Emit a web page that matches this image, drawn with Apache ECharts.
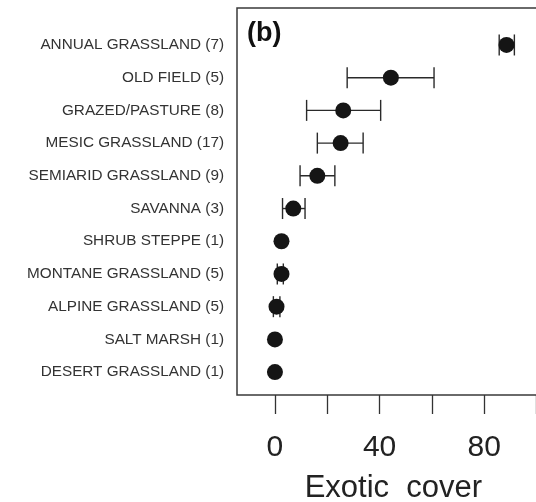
<!DOCTYPE html>
<html>
<head>
<meta charset="utf-8">
<script src="https://cdn.jsdelivr.net/npm/echarts@6/dist/echarts.min.js"></script>
<style>
html,body{margin:0;padding:0;background:#fff;overflow:hidden;}
#chart{width:536px;height:502px;}
</style>
</head>
<body>
<div id="chart"></div>
<script>
const categories = [
  "ANNUAL GRASSLAND (7)",
  "OLD FIELD (5)",
  "GRAZED/PASTURE (8)",
  "MESIC GRASSLAND (17)",
  "SEMIARID GRASSLAND (9)",
  "SAVANNA (3)",
  "SHRUB STEPPE (1)",
  "MONTANE GRASSLAND (5)",
  "ALPINE GRASSLAND (5)",
  "SALT MARSH (1)",
  "DESERT GRASSLAND (1)"
];
const means = [88.5, 44.3, 26.1, 25.1, 16.2, 7.0, 2.5, 2.5, 0.6, 0.0, 0.0];
const lower = [85.7, 27.6, 12.1, 16.2, 9.6, 2.9, null, 0.9, -0.6, null, null];
const upper = [91.5, 60.8, 40.4, 33.7, 22.9, 11.5, null, 3.2, 1.9, null, null];
const xTicks = [0, 20, 40, 60, 80, 100];
const xLabels = [0, 40, 80];
const rowIdx = categories.map((c, i) => i);

const chart = echarts.init(document.getElementById('chart'), null, {renderer: 'canvas'});

const errData = [];
categories.forEach((c, i) => {
  if (lower[i] !== null) errData.push([lower[i], upper[i], i]);
});

const option = {
  animation: false,
  backgroundColor: '#fff',
  grid: {
    left: 237, top: 8, width: 312.7, height: 387,
    outerBoundsMode: 'none', containLabel: false,
    show: true, borderColor: '#3a3a3a', borderWidth: 1.5, backgroundColor: 'transparent'
  },
  xAxis: {
    type: 'value', min: -14.5, max: 105,
    axisLine: {show: false, onZero: false},
    splitLine: {show: false},
    axisTick: {show: true, customValues: xTicks, length: 19, lineStyle: {color: '#333', width: 1.3}},
    axisLabel: {customValues: xLabels, fontSize: 30, color: '#222', margin: 38, fontFamily: 'Liberation Sans, Arial, sans-serif'},
    name: 'Exotic  cover', nameLocation: 'middle', nameGap: 78,
    nameTextStyle: {fontSize: 31, color: '#222', fontFamily: 'Liberation Sans, Arial, sans-serif'}
  },
  yAxis: {
    type: 'value', inverse: true, min: -1.13, max: 10.70,
    axisLine: {show: false, onZero: false},
    splitLine: {show: false},
    axisTick: {show: false},
    axisLabel: {
      customValues: rowIdx, margin: 13, fontSize: 15.3, color: '#333',
      fontFamily: 'Liberation Sans, Arial, sans-serif',
      formatter: v => categories[Math.round(v)]
    }
  },
  graphic: [{
    type: 'text', left: 247, top: 20,
    style: {text: '(b)', fontSize: 27, fontWeight: 'bold', fill: '#111', fontFamily: 'Liberation Sans, Arial, sans-serif'}
  }],
  series: [
    {
      type: 'custom',
      data: errData,
      renderItem: function (params, api) {
        const lo = api.coord([api.value(0), api.value(2)]);
        const hi = api.coord([api.value(1), api.value(2)]);
        const h = 10.5;
        const style = {stroke: '#2a2a2a', lineWidth: 1.4, fill: null};
        return {
          type: 'group',
          children: [
            {type: 'line', shape: {x1: lo[0], y1: lo[1], x2: hi[0], y2: hi[1]}, style: style},
            {type: 'line', shape: {x1: lo[0], y1: lo[1] - h, x2: lo[0], y2: lo[1] + h}, style: style},
            {type: 'line', shape: {x1: hi[0], y1: hi[1] - h, x2: hi[0], y2: hi[1] + h}, style: style}
          ]
        };
      },
      z: 2
    },
    {
      type: 'scatter',
      data: means.map((m, i) => [m, i]),
      symbol: 'circle', symbolSize: 16,
      itemStyle: {color: '#151515', opacity: 1},
      z: 3
    }
  ]
};
chart.setOption(option);
</script>
</body>
</html>
